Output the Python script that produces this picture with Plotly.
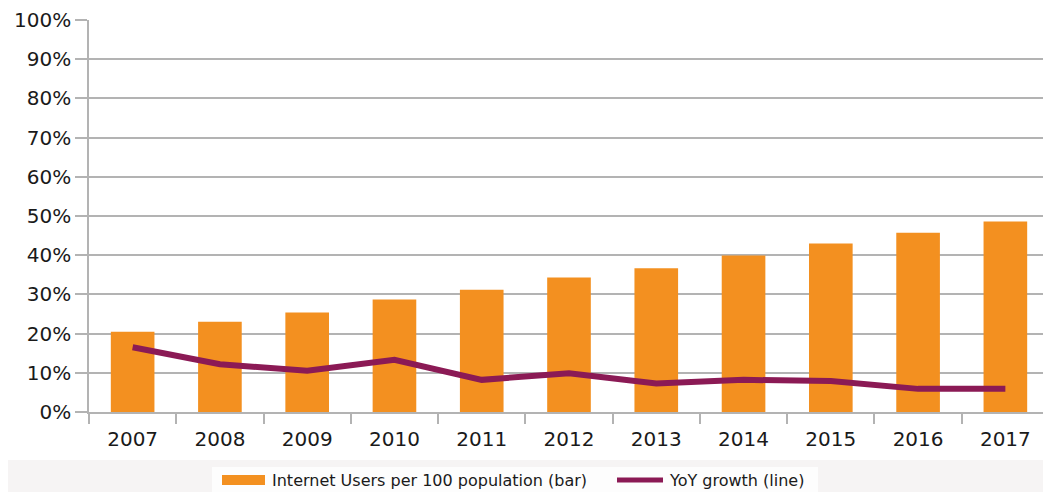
import plotly.graph_objects as go

years = ["2007", "2008", "2009", "2010", "2011", "2012", "2013", "2014", "2015", "2016", "2017"]
users = [20.5, 23.0, 25.4, 28.7, 31.2, 34.3, 36.7, 39.9, 43.0, 45.7, 48.6]
growth = [16.5, 12.2, 10.5, 13.3, 8.2, 9.9, 7.3, 8.2, 7.9, 5.9, 5.9]
ytick_vals = [0, 10, 20, 30, 40, 50, 60, 70, 80, 90, 100]
ytick_text = [f"{v}%" for v in ytick_vals]
bar_name = "Internet Users per 100 population (bar)"
line_name = "YoY growth (line)"

BAR_C = "#f39020"
LINE_C = "#8b1a55"
FONT = "DejaVu Sans, Liberation Sans, Arial, sans-serif"

# page body has an 8px margin; work in screen pixels and convert
OFF = 8
SW, SH = 1051, 492
W, H = SW - OFF, SH - OFF
PLOT_L, PLOT_R, PLOT_T, PLOT_B = 89, 1049, 20, 412  # screen px
L = PLOT_L - OFF
R = W - (PLOT_R - OFF)
T = PLOT_T - OFF
B = H - (PLOT_B - OFF)
PW, PH = PLOT_R - PLOT_L, PLOT_B - PLOT_T


def px(x):
    return (x - PLOT_L) / PW


def py(y):
    return (PLOT_B - y) / PH


fig = go.Figure()
fig.add_trace(go.Bar(
    x=years, y=users, name=bar_name,
    marker=dict(color=BAR_C, line=dict(width=0)),
))
fig.add_trace(go.Scatter(
    x=years, y=growth, name=line_name, mode="lines",
    line=dict(color=LINE_C, width=6),
))

shapes = [
    dict(type="rect", xref="paper", yref="paper", x0=px(5), x1=px(1051),
         y0=py(460), y1=py(492), fillcolor="#f6f4f4", line=dict(width=0), layer="below"),
    dict(type="rect", xref="paper", yref="paper", x0=px(212), x1=px(818),
         y0=py(467), y1=py(492), fillcolor="#fdfdfd", line=dict(width=0), layer="below"),
    dict(type="rect", xref="paper", yref="paper", x0=px(222), x1=px(265),
         y0=py(485), y1=py(475), fillcolor=BAR_C, line=dict(width=0)),
    dict(type="line", xref="paper", yref="paper", x0=px(617), x1=px(663),
         y0=py(480), y1=py(480), line=dict(color=LINE_C, width=5)),
    dict(type="line", xref="paper", yref="paper", x0=1, x1=1, y0=0, y1=1,
         line=dict(color="#b3b3b3", width=1.5)),
]
annotations = [
    dict(xref="paper", yref="paper", x=px(270), y=py(480), xanchor="left", yanchor="middle",
         text=bar_name, showarrow=False, font=dict(size=16, color="#1a1a1a", family=FONT)),
    dict(xref="paper", yref="paper", x=px(667), y=py(480), xanchor="left", yanchor="middle",
         text=line_name, showarrow=False, font=dict(size=16, color="#1a1a1a", family=FONT)),
]

fig.update_layout(
    width=W, height=H,
    margin=dict(l=L, r=R, t=T, b=B),
    paper_bgcolor="white", plot_bgcolor="white",
    font=dict(family=FONT, color="#1a1a1a"),
    bargap=0.5,
    showlegend=False,
    shapes=shapes,
    annotations=annotations,
)
fig.update_xaxes(
    type="category", showgrid=False, showline=True, linecolor="#b3b3b3", linewidth=1.5,
    ticks="outside", tickson="boundaries", ticklen=10, tickcolor="#b3b3b3", tickwidth=1.5,
    tickfont=dict(size=20, color="#1a1a1a"), automargin=False, ticklabelstandoff=8,
)
fig.update_yaxes(
    range=[0, 100], tickvals=ytick_vals, ticktext=ytick_text,
    showgrid=True, gridcolor="#b3b3b3", gridwidth=1.5,
    showline=True, linecolor="#b3b3b3", linewidth=1.5,
    ticks="outside", ticklen=12, tickcolor="#b3b3b3", tickwidth=1.5,
    tickfont=dict(size=20, color="#1a1a1a"), zeroline=False, automargin=False,
)

fig.write_html("out.html")
